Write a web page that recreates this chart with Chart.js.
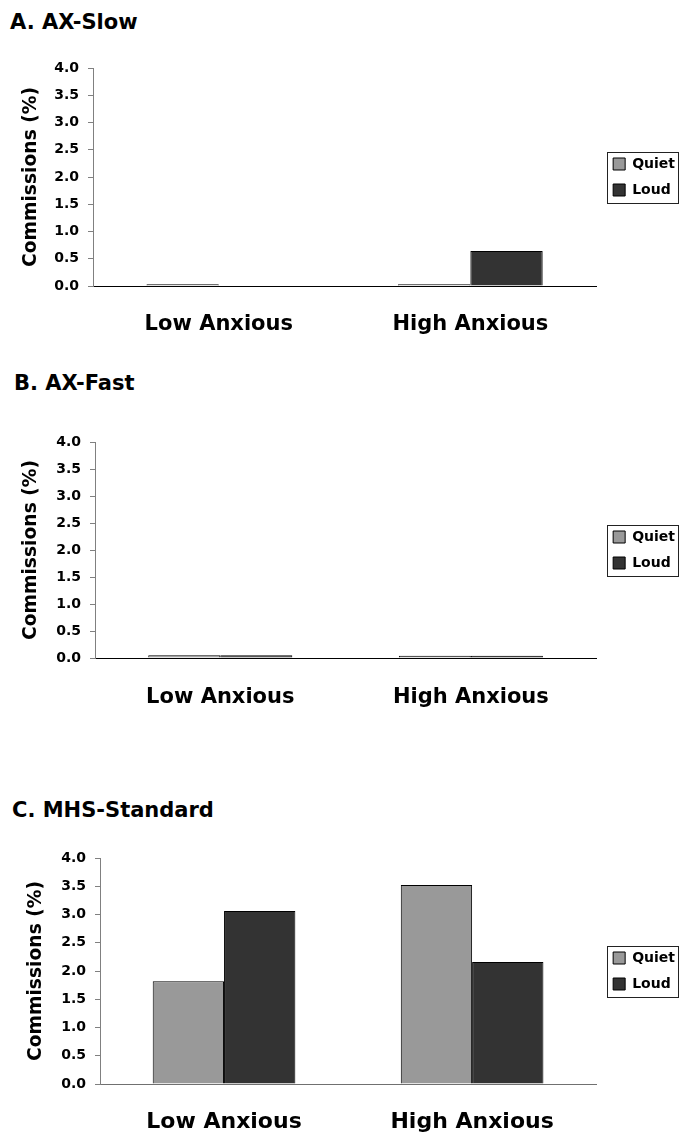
<!DOCTYPE html>
<html>
<head>
<meta charset="utf-8">
<script src="https://cdn.jsdelivr.net/npm/chart.js@4.4.1/dist/chart.umd.min.js"></script>
<style>
  body { margin: 0; background: #fff; }
  .panel { position: absolute; left: 0; width: 680px; }
  .title {
    position: absolute;
    font: bold 21px "DejaVu Sans", sans-serif;
    line-height: 24px;
    color: #000;
  }
</style>
</head>
<body>
<div class="title" style="left:10px; top:10px;">A. AX-Slow</div>
<div class="title" style="left:14px; top:371px;">B. AX-Fast</div>
<div class="title" style="left:12px; top:798px;">C. MHS-Standard</div>

<div class="panel" style="top:0; height:370px;"><canvas id="chartA" width="680" height="370"></canvas></div>
<div class="panel" style="top:370px; height:370px;"><canvas id="chartB" width="680" height="370"></canvas></div>
<div class="panel" style="top:790px; height:342px;"><canvas id="chartC" width="680" height="342"></canvas></div>

<script>
// data
const categories = ['Low Anxious', 'High Anxious'];
const seriesNames = ['Quiet', 'Loud'];

const axSlowQuiet = [0.03, 0.03];
const axSlowLoud = [0, 0.64];

const axFastQuiet = [0.05, 0.04];
const axFastLoud = [0.05, 0.04];

const mhsQuiet = [1.82, 3.52];
const mhsLoud = [3.06, 2.16];

const yMin = 0;
const yMax = 4;
const yStep = 0.5;

const FONT = '"DejaVu Sans", sans-serif';

// box around the legend, like the original
const legendFrame = {
  id: 'legendFrame',
  afterDraw(chart) {
    const boxes = chart.legend && chart.legend.legendHitBoxes;
    if (!boxes || !boxes.length) return;
    const left = Math.min(...boxes.map(b => b.left)) - 6;
    const right = Math.max(...boxes.map(b => b.left + b.width)) + 3;
    const top = Math.min(...boxes.map(b => b.top)) - 5;
    const bottom = Math.max(...boxes.map(b => b.top + b.height)) + 6;
    const c = chart.ctx;
    c.save();
    c.strokeStyle = '#222';
    c.lineWidth = 1;
    c.strokeRect(Math.round(left) + 0.5, Math.round(top) + 0.5, Math.round(right - left), Math.round(bottom - top));
    c.restore();
  }
};

function makeChart(id, quiet, loud, cfg) {
  const ctx = document.getElementById(id).getContext('2d');
  return new Chart(ctx, {
    type: 'bar',
    data: {
      labels: categories,
      datasets: [{
        label: seriesNames[0],
        data: quiet,
        backgroundColor: '#999999',
        borderColor: '#000',
        borderWidth: 1
      }, {
        label: seriesNames[1],
        data: loud,
        backgroundColor: '#333333',
        borderColor: '#000',
        borderWidth: 1
      }]
    },
    options: {
      responsive: false,
      animation: false,
      categoryPercentage: 0.575,
      barPercentage: 1.0,
      layout: { padding: { top: cfg.top, left: 0, right: -5, bottom: 0 } },
      plugins: {
        tooltip: { enabled: false },
        legend: {
          position: 'right',
          fullSize: false,
          labels: {
            boxWidth: 12,
            boxHeight: 12,
            padding: 12,
            color: '#000',
            font: { family: FONT, size: 14, weight: 'bold' }
          }
        }
      },
      scales: {
        x: {
          grid: { display: false, drawTicks: false },
          border: { display: true, color: cfg.xAxisColor, width: 1 },
          ticks: {
            padding: cfg.xLabelPad,
            color: '#000',
            font: { family: FONT, size: cfg.xFont, weight: 'bold' }
          },
          afterFit: s => { s.height = cfg.xHeight; }
        },
        y: {
          min: yMin,
          max: yMax,
          grid: { drawOnChartArea: false, drawTicks: true, tickLength: 5, color: '#808080' },
          border: { display: true, color: '#808080', width: 1 },
          ticks: {
            stepSize: yStep,
            padding: 9,
            color: '#000',
            font: { family: FONT, size: 14, weight: 'bold' },
            callback: v => v.toFixed(1)
          },
          title: {
            display: true,
            text: 'Commissions (%)',
            color: '#000',
            padding: { top: cfg.yTitlePad, bottom: 0 },
            font: { family: FONT, size: 18.7, weight: 'bold' }
          },
          afterFit: s => { s.width = cfg.yWidth; }
        },
        // empty gap between the plot and the legend
        gap: {
          type: 'linear',
          position: 'right',
          display: true,
          grid: { display: false, drawTicks: false },
          border: { display: false },
          ticks: { display: false },
          afterFit: s => { s.width = 5; }
        }
      }
    },
    plugins: [legendFrame]
  });
}

makeChart('chartA', axSlowQuiet, axSlowLoud, {
  top: 68, xHeight: 84, xLabelPad: 26, xFont: 21,
  xAxisColor: '#000', yWidth: 93, yTitlePad: 20
});
makeChart('chartB', axFastQuiet, axFastLoud, {
  top: 72, xHeight: 82, xLabelPad: 27, xFont: 21,
  xAxisColor: '#000', yWidth: 95, yTitlePad: 20
});
makeChart('chartC', mhsQuiet, mhsLoud, {
  top: 68, xHeight: 48, xLabelPad: 25, xFont: 22,
  xAxisColor: '#707070', yWidth: 100, yTitlePad: 25
});
</script>
</body>
</html>
